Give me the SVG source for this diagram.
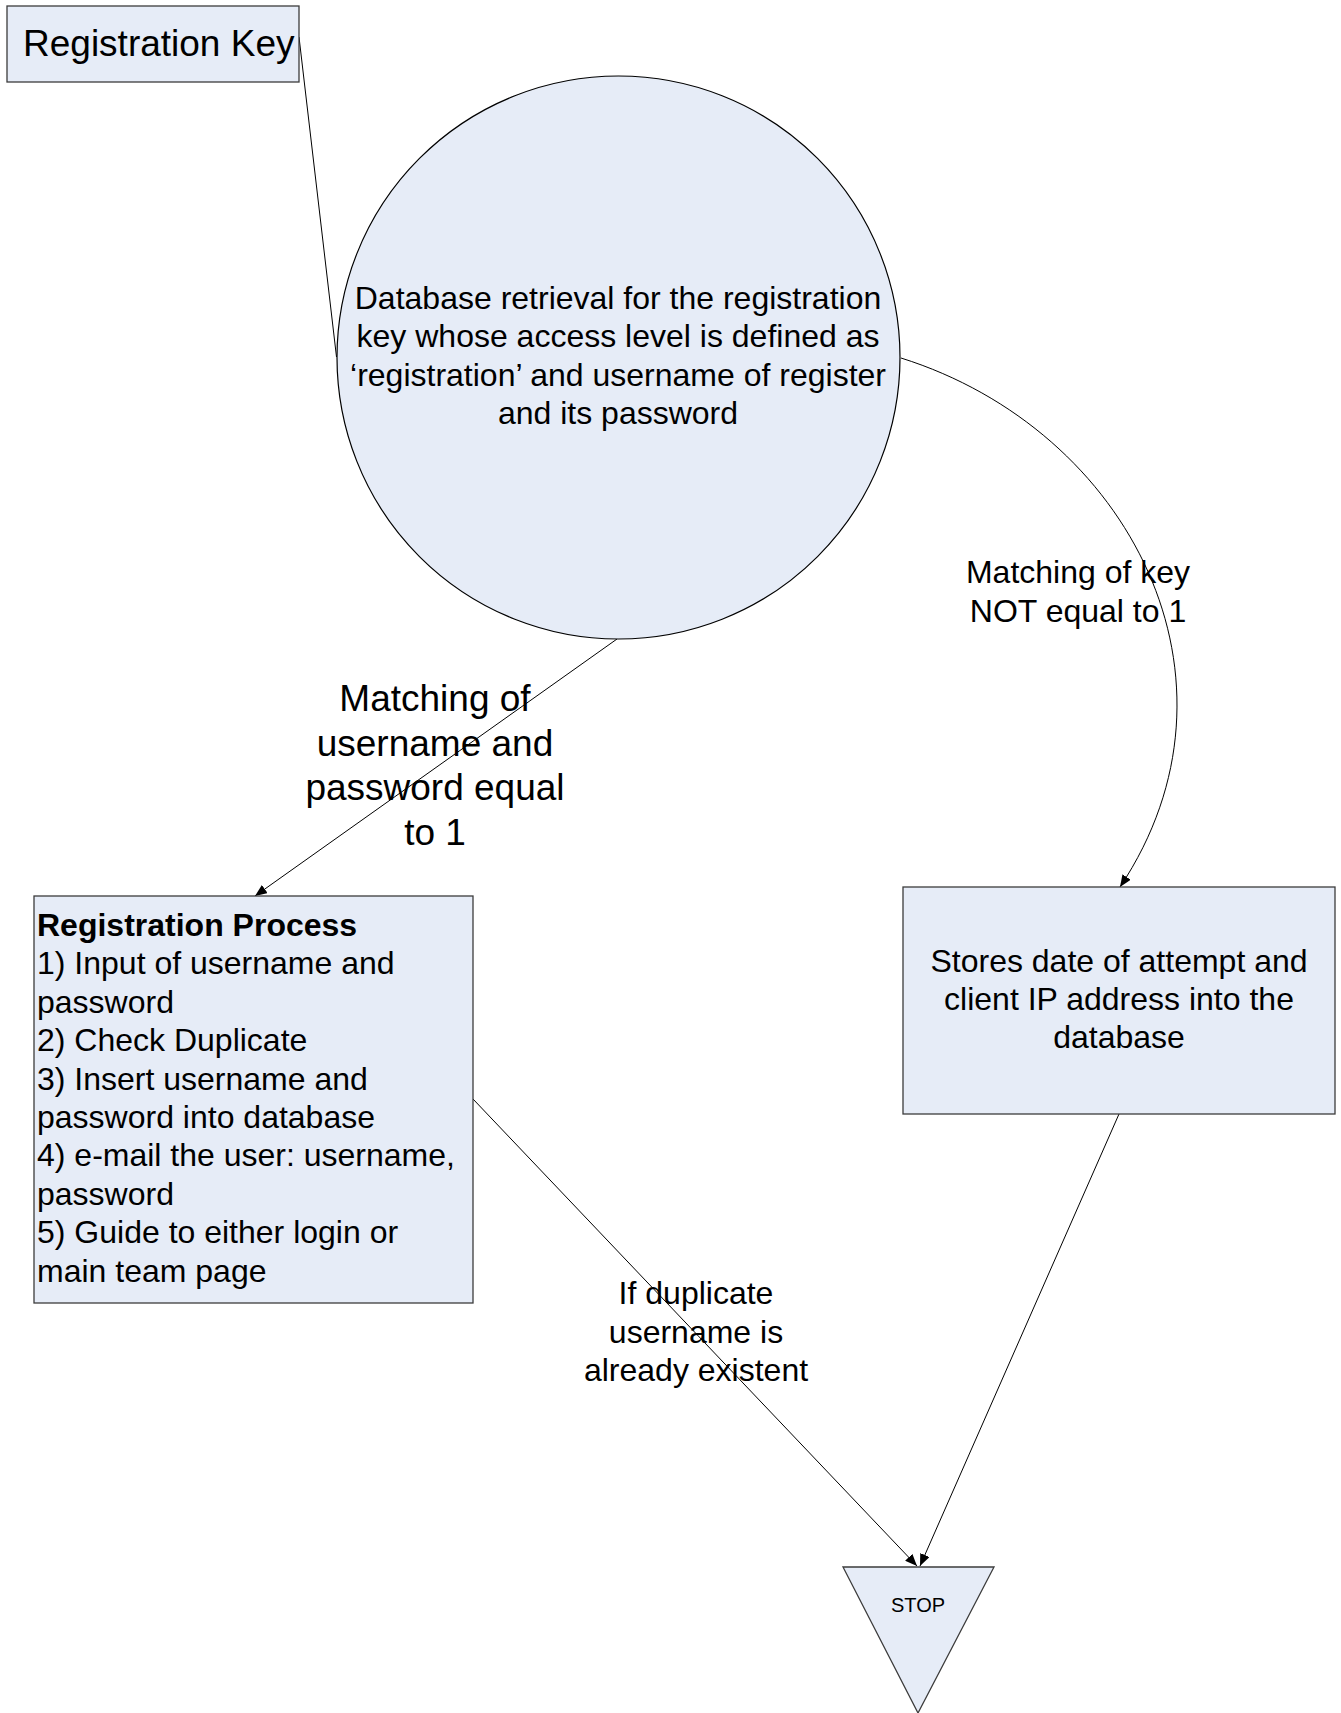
<svg xmlns="http://www.w3.org/2000/svg" width="1341" height="1713" viewBox="0 0 1341 1713">
<defs>
<style>
.node{fill:#e6ecf7;stroke:#3c3c3c;stroke-width:1.3}
.circ{fill:#e6ecf7;stroke:#000;stroke-width:1.2}
.t{font-family:"Liberation Sans",Arial,sans-serif;fill:#000}
.c{text-anchor:middle}
.conn{fill:none;stroke:#000;stroke-width:1}
</style>
<marker id="arr" viewBox="0 0 12 10" refX="12" refY="5" markerWidth="12" markerHeight="10" markerUnits="userSpaceOnUse" orient="auto">
<path d="M0,0 L12,5 L0,10 Z" fill="#000"/>
</marker>
</defs>
<rect width="1341" height="1713" fill="#fff"/>
<g id="connectors">
<line class="conn" x1="299" y1="37" x2="336.5" y2="357"/>
<line class="conn" x1="617" y1="639" x2="255" y2="896" marker-end="url(#arr)"/>
<path class="conn" d="M901,358 C1130,430 1258,680 1120,887" marker-end="url(#arr)"/>
<line class="conn" x1="473" y1="1099" x2="917" y2="1566" marker-end="url(#arr)"/>
<line class="conn" x1="1119" y1="1114" x2="920" y2="1566" marker-end="url(#arr)"/>
</g>
<g id="registration-key">
<rect class="node" x="7" y="6" width="292" height="76"/>
<text class="t" x="23" y="56" font-size="37">Registration Key</text>
</g>
<g id="database-retrieval">
<circle class="circ" cx="618.5" cy="357.5" r="281.5"/>
<text class="t c" font-size="32"><tspan x="618" y="309">Database retrieval for the registration</tspan><tspan x="618" y="347.4">key whose access level is defined as</tspan><tspan x="618" y="385.8">‘registration’ and username of register</tspan><tspan x="618" y="424.2">and its password</tspan></text>
</g>
<g id="registration-process">
<rect class="node" x="34" y="896" width="439" height="407"/>
<text class="t" font-size="32"><tspan x="37" y="936" font-weight="bold">Registration Process</tspan><tspan x="37" y="974.4">1) Input of username and</tspan><tspan x="37" y="1012.8">password</tspan><tspan x="37" y="1051.2">2) Check Duplicate</tspan><tspan x="37" y="1089.6">3) Insert username and</tspan><tspan x="37" y="1128">password into database</tspan><tspan x="37" y="1166.4">4) e-mail the user: username,</tspan><tspan x="37" y="1204.8">password</tspan><tspan x="37" y="1243.2">5) Guide to either login or</tspan><tspan x="37" y="1281.6">main team page</tspan></text>
</g>
<g id="stores-attempt">
<rect class="node" x="903" y="887" width="432" height="227"/>
<text class="t c" font-size="32"><tspan x="1119" y="972">Stores date of attempt and</tspan><tspan x="1119" y="1010">client IP address into the</tspan><tspan x="1119" y="1048">database</tspan></text>
</g>
<g id="stop">
<polygon class="node" points="843,1567 994,1567 918,1713"/>
<text class="t c" x="918" y="1612" font-size="20">STOP</text>
</g>
<g id="labels">
<text class="t c" font-size="37"><tspan x="435" y="711">Matching of</tspan><tspan x="435" y="755.5">username and</tspan><tspan x="435" y="800">password equal</tspan><tspan x="435" y="844.5">to 1</tspan></text>
<text class="t c" font-size="32"><tspan x="1078" y="583">Matching of key</tspan><tspan x="1078" y="622">NOT equal to 1</tspan></text>
<text class="t c" font-size="32"><tspan x="696" y="1304">If duplicate</tspan><tspan x="696" y="1342.5">username is</tspan><tspan x="696" y="1381">already existent</tspan></text>
</g>
</svg>
